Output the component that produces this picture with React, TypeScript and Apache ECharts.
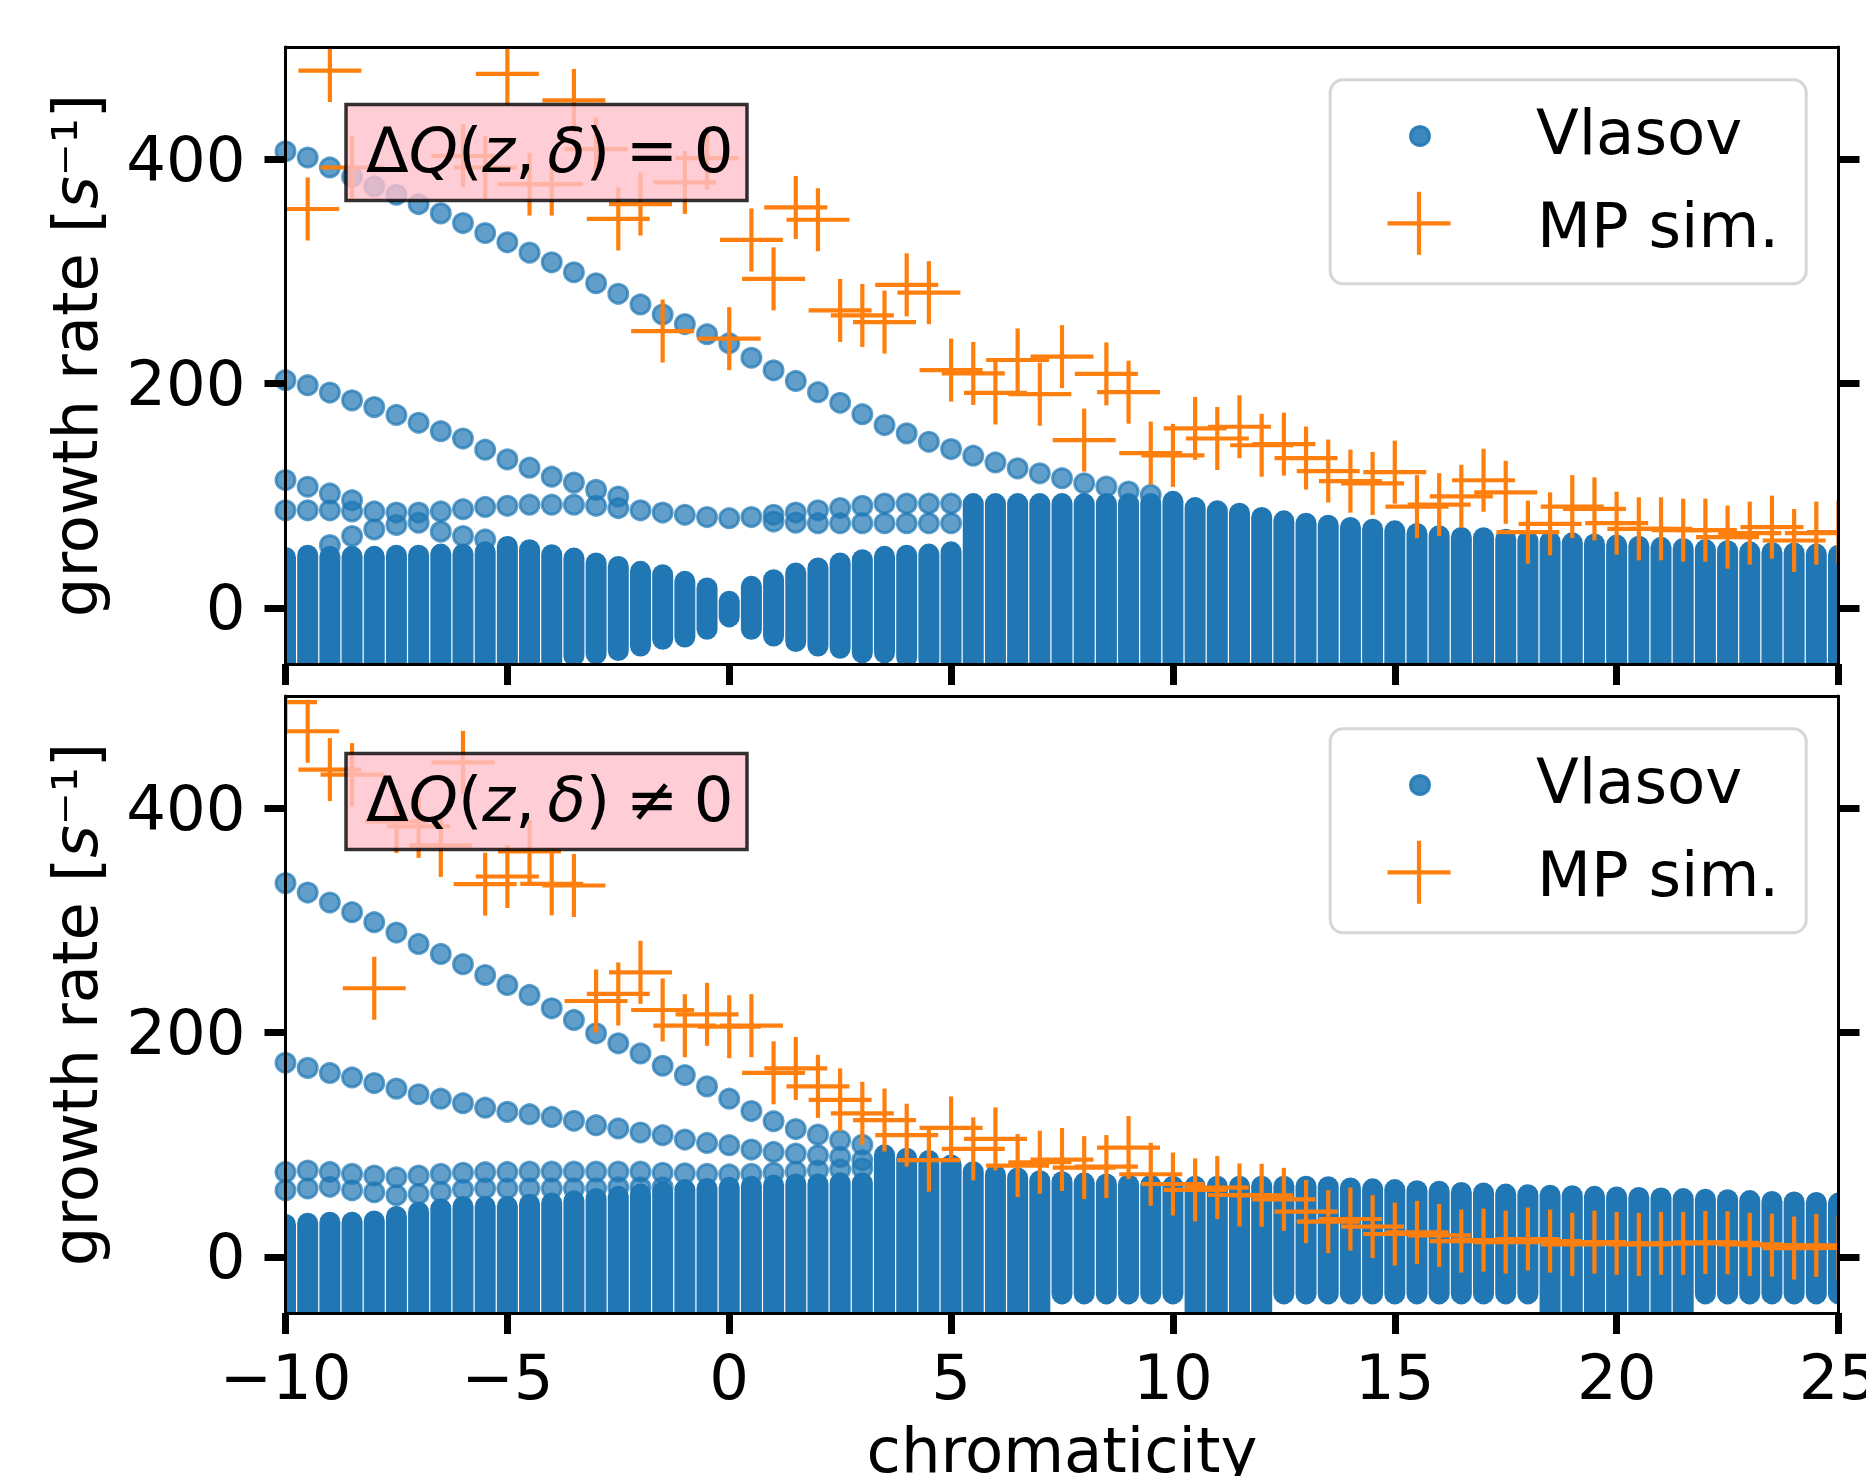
import React, { useEffect, useRef } from "react";
import * as echarts from "echarts";

// ---------------- data ----------------
// chromaticity values of the Vlasov solver scan
const CHROMA = [
  -10, -9.5, -9, -8.5, -8, -7.5, -7, -6.5, -6, -5.5, -5, -4.5, -4, -3.5, -3, -2.5, -2, -1.5, -1, -0.5,
  0, 0.5, 1, 1.5, 2, 2.5, 3, 3.5, 4, 4.5, 5, 5.5, 6, 6.5, 7, 7.5, 8, 8.5, 9, 9.5,
  10, 10.5, 11, 11.5, 12, 12.5, 13, 13.5, 14, 14.5, 15, 15.5, 16, 16.5, 17, 17.5, 18, 18.5, 19, 19.5,
  20, 20.5, 21, 21.5, 22, 22.5, 23, 23.5, 24, 24.5, 25,
];

// top panel (dQ = 0): dense cloud of Vlasov modes, lowest / highest mode in each column
const TOP_BAND_LO = [
  -60, -60, -60, -60, -60, -60, -60, -60, -60, -60, -60, -60,
  -48, -43, -41, -38, -34, -28, -26, -19, -8, -19, -25, -30, -34, -36, -40, -40, -44, -46, -48,
  -60, -60, -60, -60, -60, -60, -60, -60, -60, -60, -60, -60, -60, -60, -60, -60, -60, -60, -60, -60,
  -60, -60, -60, -60, -60, -60, -60, -60, -60, -60, -60, -60, -60, -60, -60, -60, -60, -60, -60, -60,
];
const TOP_BAND_HI = [
  45, 47, 46, 46, 46, 47, 47, 48, 48, 50, 54.8, 51.8, 47.4, 44.4, 40, 37, 32.6, 29.6, 23.7, 17.8,
  6, 19.2, 25.2, 31.1, 35.6, 40, 43, 46, 47, 48, 50, 93, 93, 93, 93, 93, 93, 93, 93, 93,
  95, 89.4, 86.5, 84.4, 80.6, 77.6, 75.5, 73.7, 71.7, 70.2, 68.7, 66.3, 64.3, 62.8, 62.5, 61.3, 60, 59, 58, 57,
  56, 55, 54, 53, 52, 51, 50, 49.5, 49, 48, 47,
];
// isolated Vlasov modes, top panel
const TOP_MODE_A = [
  [-10, 407], [-9.5, 401.5], [-9, 392.6], [-8.5, 384.3], [-8, 375.7], [-7.5, 368.3], [-7, 360], [-6.5, 351.7],
  [-6, 343.1], [-5.5, 334.2], [-5, 325.9], [-4.5, 316.7], [-4, 308.1], [-3.5, 299.2], [-3, 289.4], [-2.5, 280],
  [-2, 270.5], [-1.5, 261.6], [-1, 253], [-0.5, 244], [0, 236], [0.5, 223], [1, 211.8], [1.5, 202.3],
  [2, 192.3], [2.5, 182.8], [3, 172.7], [3.5, 163], [4, 155.6], [4.5, 148.1], [5, 141.6], [5.5, 135.7],
  [6, 129.7], [6.5, 124.4], [7, 120], [7.5, 115.6], [8, 111.1], [8.5, 108.1], [9, 103.7], [9.5, 100.7],
];
const TOP_MODE_B = [
  [-10, 203], [-9.5, 198.5], [-9, 192], [-8.5, 185], [-8, 179], [-7.5, 172], [-7, 165], [-6.5, 157.5],
  [-6, 151], [-5.5, 141], [-5, 132.4], [-4.5, 125], [-4, 117], [-3.5, 111.7], [-3, 105.2], [-2.5, 99.2],
];
const TOP_MODE_C = [
  [-10, 87], [-9.5, 87], [-9, 87], [-8.5, 86], [-8, 86], [-7.5, 85], [-7, 85], [-6.5, 86], [-6, 88],
  [-5.5, 90], [-5, 91], [-4.5, 92], [-4, 92], [-3.5, 92], [-3, 91], [-2.5, 89], [-2, 87], [-1.5, 85],
  [-1, 83], [-0.5, 81], [0, 80], [0.5, 81], [1, 83], [1.5, 85], [2, 87], [2.5, 89], [3, 91], [3.5, 93],
  [4, 93], [4.5, 93], [5, 93],
];
const TOP_MODE_C2 = [[1, 77], [1.5, 76], [2, 75.5], [2.5, 75.5], [3, 75.5], [3.5, 75.5], [4, 75.5], [4.5, 75.5], [5, 75.5]];
const TOP_MODE_D = [[-10, 114], [-9.5, 108], [-9, 102], [-8.5, 96]];
const TOP_MODE_E = [[-9, 56], [-8.5, 64], [-8, 70], [-7.5, 74], [-7, 76], [-6.5, 68], [-6, 64], [-5.5, 61]];

// top panel macro-particle simulation
const TOP_MP = [
  [-9.5, 355.6], [-9, 479], [-8.5, 392.6], [-6, 403], [-5.5, 392.6], [-5, 476], [-4.5, 377.8], [-4, 377.8],
  [-3.5, 452.4], [-3, 408.9], [-2.5, 346.7], [-2, 360], [-1.5, 246.8], [-1, 379.3], [-0.5, 400.9], [0, 240],
  [0.5, 328], [1, 293.3], [1.5, 357], [2, 346], [2.5, 265.2], [3, 260.7], [3.5, 254.8], [4, 288], [4.5, 281],
  [5, 212], [5.5, 209], [6, 191.6], [6.5, 221], [7, 190.5], [7.5, 224], [8, 149.6], [8.5, 208.6], [9, 192.3],
  [9.5, 138], [10, 136], [10.5, 160], [11, 151], [11.5, 161.5], [12, 145], [12.5, 146], [13, 133.6], [13.5, 122],
  [14, 113], [14.5, 111], [15, 121], [15.5, 90.3], [16, 92], [16.5, 99.5], [17, 113.8], [17.5, 103], [18, 67.5],
  [18.5, 74.9], [19, 90.3], [19.5, 88.3], [20, 75.5], [20.5, 70.5], [21, 70.5], [21.5, 69.3], [22, 69.3],
  [22.5, 63.1], [23, 66.7], [23.5, 72], [24, 60.1], [24.5, 66.7], [25, 67.6],
];

// bottom panel (dQ != 0)
const BOT_BAND_LO = [
  -60, -60, -60, -60, -60, -60, -60, -60, -60, -60, -60, -60, -60, -60, -60, -60, -60, -60, -60, -60,
  -60, -60, -60, -60, -60, -60, -60, -60, -60, -60, -60, -60, -60, -60, -60,
  -33, -33, -33, -33, -33, -33, -50, -55, -55, -50, -33, -33, -33, -33, -33, -33, -33, -33, -33, -33, -33, -33,
  -48, -52, -55, -55, -55, -52, -48, -33, -33, -33, -33, -33, -33, -33,
];
const BOT_BAND_HI = [
  29, 30, 31, 31, 32, 36, 40, 43, 45, 45, 45, 47, 48, 50, 52, 54, 56, 58, 60, 61,
  62, 63, 64, 65, 65, 66, 66, 91, 88, 86, 82, 76, 73, 70.4, 68, 67, 66, 65, 64.4, 64,
  63, 63, 63, 63, 63, 63, 63, 62.5, 61.4, 60.7, 60, 59, 58.5, 57.5, 57, 56, 55.5, 55, 54.6, 54,
  53.5, 53, 52.5, 52, 51.5, 51, 50.2, 49.5, 49, 48.5, 48,
];
const BOT_MODE_A = [
  [-10, 333.2], [-9.5, 324.8], [-9, 315.9], [-8.5, 307.3], [-8, 298.4], [-7.5, 289.1], [-7, 279], [-6.5, 270.1],
  [-6, 260.9], [-5.5, 251.3], [-5, 242.4], [-4.5, 233.5], [-4, 221.6], [-3.5, 211.2], [-3, 199.3], [-2.5, 190.4],
  [-2, 181.4], [-1.5, 170.4], [-1, 162.1], [-0.5, 152], [0, 141], [0.5, 130], [1, 121], [1.5, 114], [2, 109],
  [2.5, 104], [3, 100],
];
const BOT_MODE_B = [
  [-10, 173], [-9.5, 168.5], [-9, 164], [-8.5, 160], [-8, 155], [-7.5, 150], [-7, 145], [-6.5, 141], [-6, 137],
  [-5.5, 133], [-5, 129.3], [-4.5, 127.2], [-4, 124.8], [-3.5, 121.3], [-3, 117.4], [-2.5, 114.5], [-2, 110.9],
  [-1.5, 108.5], [-1, 104.6], [-0.5, 101.6], [0, 99.6], [0.5, 95.7], [1, 93.6], [1.5, 92.1], [2, 90.6],
  [2.5, 89.1], [3, 86.2],
];
const BOT_MODE_C = [
  [-10, 75.7], [-9.5, 77], [-9, 75.7], [-8.5, 74], [-8, 72.5], [-7.5, 71], [-7, 72.5], [-6.5, 74], [-6, 75],
  [-5.5, 75.5], [-5, 75.7], [-4.5, 76], [-4, 76], [-3.5, 76], [-3, 76], [-2.5, 76], [-2, 76], [-1.5, 75],
  [-1, 74.5], [-0.5, 74], [0, 73.5], [0.5, 74], [1, 75], [1.5, 76], [2, 77], [2.5, 78], [3, 79],
];
const BOT_MODE_C2 = [
  [-10, 59.4], [-9.5, 61], [-9, 62.5], [-8.5, 59.4], [-8, 57.7], [-7.5, 55], [-7, 56], [-6.5, 58], [-6, 60],
  [-5.5, 61], [-5, 61], [-4.5, 61], [-4, 61], [-3.5, 61], [-3, 61], [-2.5, 62], [-2, 62], [-1.5, 62],
];

const BOT_MP = [
  [-10, 494.5], [-9.5, 468.6], [-9, 434.4], [-8.5, 429.9], [-8, 239.5], [-7.5, 388.2], [-7, 383.8], [-6.5, 366.8],
  [-6, 440.9], [-5.5, 332.3], [-5, 339.1], [-4.5, 361.4], [-4, 332.6], [-3.5, 331.1], [-3, 228.1], [-2.5, 234.4],
  [-2, 253.7], [-1.5, 220.1], [-1, 206.1], [-0.5, 216.2], [0, 205.2], [0.5, 206.1], [1, 164.1], [1.5, 168],
  [2, 152], [2.5, 140], [3, 128], [3.5, 122], [4, 108.5], [4.5, 86.2], [5, 115], [5.5, 96.3], [6, 105.2],
  [6.5, 81.4], [7, 84.4], [7.5, 86.8], [8, 79.6], [8.5, 80.5], [9, 97.5], [9.5, 73.7], [10, 65], [10.5, 59.7],
  [11, 61.8], [11.5, 55.2], [12, 54.9], [12.5, 51.3], [13, 40.4], [13.5, 31.4], [14, 33.8], [14.5, 27],
  [15, 20.4], [15.5, 21.9], [16, 19.2], [16.5, 14.1], [17, 15], [17.5, 13.2], [18, 15.9], [18.5, 14.1],
  [19, 11.2], [19.5, 13.2], [20, 12.1], [20.5, 11.2], [21, 12.1], [21.5, 12.1], [22, 12.9], [22.5, 12.6],
  [23, 11.2], [23.5, 10.5], [24, 7.9], [24.5, 10.3], [25, 8],
];

const Y_TICKS = [0, 200, 400];
const X_MIN = -10;
const X_MAX = 25;
const X_STEP = 5;
const Y_MIN = -50;
const Y_MAX = 500;
const LEGEND_NAMES = ["Vlasov", "MP sim."];
const PANEL_TAGS = [
  "{n|Δ}{i|Q}{n|(}{i|z}{n|,\u2009}{i|δ}{n|)\u2005=\u20050}",
  "{n|Δ}{i|Q}{n|(}{i|z}{n|,\u2009}{i|δ}{n|)\u2005≠\u20050}",
];

// ---------------- styling / layout ----------------
const FONT = "DejaVu Sans";
const FS = 62.5;
const BLUE_A = "rgba(31,119,180,0.88)";
const BAND_COLOR = "#2077b4";
const ORANGE = "#ff7f0e";
const DOT_SIZE = 19;
const DOT_BORDER = 3;
const BAND_R = 10.5;
const CROSS_HALF = 31.5;
const CROSS_W = 4.2;

const GL = 285.5;
const GW = 1553;
const GH = 617;
const GT = [47, 696];

const fmt = (v: number) => String(v).replace("-", "\u2212");

function bandSeries(panel: number, lo: number[], hi: number[]) {
  return {
    type: "custom",
    xAxisIndex: panel * 2,
    yAxisIndex: panel * 2,
    clip: true,
    silent: true,
    z: 2,
    data: CHROMA.map((x, i) => [x, lo[i], hi[i]]),
    encode: { x: 0, y: [1, 2] },
    renderItem: (_p: any, api: any) => {
      const x = api.value(0);
      const top = api.coord([x, api.value(2)]);
      const bot = api.coord([x, api.value(1)]);
      return {
        type: "rect",
        shape: {
          x: top[0] - BAND_R,
          y: top[1] - BAND_R,
          width: 2 * BAND_R,
          height: bot[1] - top[1] + 2 * BAND_R,
          r: BAND_R,
        },
        style: { fill: BAND_COLOR },
      };
    },
  };
}

function dotSeries(panel: number, data: number[][]) {
  return {
    type: "scatter",
    xAxisIndex: panel * 2,
    yAxisIndex: panel * 2,
    clip: true,
    silent: true,
    z: 3,
    symbol: "circle",
    symbolSize: DOT_SIZE,
    itemStyle: { color: BLUE_A, borderColor: BLUE_A, borderWidth: DOT_BORDER },
    data,
  };
}

function crossSeries(panel: number, data: number[][]) {
  return {
    type: "custom",
    xAxisIndex: panel * 2,
    yAxisIndex: panel * 2,
    clip: true,
    silent: true,
    z: 4,
    data,
    encode: { x: 0, y: 1 },
    renderItem: (_p: any, api: any) => {
      const p = api.coord([api.value(0), api.value(1)]);
      return {
        type: "group",
        children: [
          { type: "line", shape: { x1: p[0] - CROSS_HALF, y1: p[1], x2: p[0] + CROSS_HALF, y2: p[1] }, style: { stroke: ORANGE, lineWidth: CROSS_W } },
          { type: "line", shape: { x1: p[0], y1: p[1] - CROSS_HALF, x2: p[0], y2: p[1] + CROSS_HALF }, style: { stroke: ORANGE, lineWidth: CROSS_W } },
        ],
      };
    },
  };
}

const axisLine = { show: true, onZero: false, lineStyle: { color: "#000", width: 3 } };
const tickStyle = { color: "#000", width: 7 };

function xAxes(panel: number) {
  return [
    {
      type: "value", gridIndex: panel, position: "bottom", min: X_MIN, max: X_MAX, interval: X_STEP, z: 20,
      axisLine,
      axisTick: { show: true, inside: false, length: 21, lineStyle: tickStyle },
      axisLabel: { show: panel === 1, margin: 33, fontSize: FS, fontFamily: FONT, color: "#000", formatter: fmt },
      splitLine: { show: false },
    },
    {
      type: "value", gridIndex: panel, position: "top", min: X_MIN, max: X_MAX, interval: X_STEP, z: 20,
      axisLine,
      axisTick: { show: false },
      axisLabel: { show: false },
      splitLine: { show: false },
    },
  ];
}

function yAxes(panel: number) {
  return [
    {
      type: "value", gridIndex: panel, position: "left", min: Y_MIN, max: Y_MAX, z: 20,
      axisLine,
      axisTick: { show: true, inside: false, length: 21, lineStyle: tickStyle, customValues: Y_TICKS },
      axisLabel: { show: true, customValues: Y_TICKS, margin: 40, fontSize: FS, fontFamily: FONT, color: "#000", formatter: fmt },
      splitLine: { show: false },
    },
    {
      type: "value", gridIndex: panel, position: "right", min: Y_MIN, max: Y_MAX, z: 20,
      axisLine,
      axisTick: { show: true, inside: false, length: 21, lineStyle: tickStyle, customValues: Y_TICKS },
      axisLabel: { show: false, customValues: Y_TICKS },
      splitLine: { show: false },
    },
  ];
}

function panelGraphics(panel: number) {
  const dy = GT[panel] - GT[0];
  const txt = (extra: any) => ({ fontSize: FS, fontFamily: FONT, fill: "#000", ...extra });
  return [
    // annotation box
    {
      type: "rect", z: 30, silent: true,
      shape: { x: 346, y: 104.5 + dy, width: 401, height: 96 },
      style: { fill: "rgba(255,192,203,0.8)", stroke: "rgba(0,0,0,0.8)", lineWidth: 3.5 },
    },
    {
      type: "text", z: 31, silent: true, x: 366, y: 150 + dy,
      style: txt({
        text: PANEL_TAGS[panel], textAlign: "left", textVerticalAlign: "middle",
        rich: {
          n: { fontSize: FS, fontFamily: FONT, fill: "#000" },
          i: { fontSize: FS, fontFamily: FONT, fontStyle: "italic", fill: "#000" },
        },
      }),
    },
    // legend frame
    {
      type: "rect", z: 30, silent: true,
      shape: { x: 1330.2, y: 79.8 + dy, width: 476, height: 204, r: 13 },
      style: { fill: "rgba(255,255,255,0.8)", stroke: "#d6d6d6", lineWidth: 3 },
    },
    {
      type: "circle", z: 31, silent: true,
      shape: { cx: 1420, cy: 136 + dy, r: DOT_SIZE / 2 },
      style: { fill: BLUE_A, stroke: BLUE_A, lineWidth: DOT_BORDER },
    },
    {
      type: "line", z: 31, silent: true,
      shape: { x1: 1419 - CROSS_HALF, y1: 223.3 + dy, x2: 1419 + CROSS_HALF, y2: 223.3 + dy },
      style: { stroke: ORANGE, lineWidth: CROSS_W },
    },
    {
      type: "line", z: 31, silent: true,
      shape: { x1: 1419, y1: 223.3 + dy - CROSS_HALF, x2: 1419, y2: 223.3 + dy + CROSS_HALF },
      style: { stroke: ORANGE, lineWidth: CROSS_W },
    },
    {
      type: "text", z: 31, silent: true, x: 1536, y: 132 + dy,
      style: txt({ text: LEGEND_NAMES[0], textAlign: "left", textVerticalAlign: "middle" }),
    },
    {
      type: "text", z: 31, silent: true, x: 1537, y: 225 + dy,
      style: txt({ text: LEGEND_NAMES[1], textAlign: "left", textVerticalAlign: "middle" }),
    },
    // y axis title
    {
      type: "text", z: 31, silent: true, x: 75.5, y: GT[panel] + GH / 2, rotation: Math.PI / 2,
      style: txt({
        text: "{n|growth rate [}{i|s}{n|⁻¹]}", textAlign: "center", textVerticalAlign: "middle",
        rich: {
          n: { fontSize: FS, fontFamily: FONT, fill: "#000" },
          i: { fontSize: FS, fontFamily: FONT, fontStyle: "italic", fill: "#000" },
        },
      }),
    },
  ];
}

function buildOption() {
  return {
    animation: false,
    backgroundColor: "#fff",
    textStyle: { fontFamily: FONT },
    grid: [0, 1].map((i) => ({
      left: GL, top: GT[i], width: GW, height: GH, show: false, containLabel: false, outerBoundsMode: "none",
    })),
    xAxis: [...xAxes(0), ...xAxes(1)],
    yAxis: [...yAxes(0), ...yAxes(1)],
    series: [
      bandSeries(0, TOP_BAND_LO, TOP_BAND_HI),
      dotSeries(0, [...TOP_MODE_A, ...TOP_MODE_B, ...TOP_MODE_C, ...TOP_MODE_C2, ...TOP_MODE_D, ...TOP_MODE_E]),
      crossSeries(0, TOP_MP),
      bandSeries(1, BOT_BAND_LO, BOT_BAND_HI),
      dotSeries(1, [...BOT_MODE_A, ...BOT_MODE_B, ...BOT_MODE_C, ...BOT_MODE_C2]),
      crossSeries(1, BOT_MP),
    ],
    graphic: {
      elements: [
        ...panelGraphics(0),
        ...panelGraphics(1),
        {
          type: "text", z: 31, silent: true, x: GL + GW / 2, y: 1450.5,
          style: { text: "chromaticity", fontSize: FS, fontFamily: FONT, fill: "#000", textAlign: "center", textVerticalAlign: "middle" },
        },
      ],
    },
  };
}

export default function App() {
  const ref = useRef<HTMLDivElement>(null);
  useEffect(() => {
    if (!ref.current) return;
    const chart = echarts.init(ref.current, null, { renderer: "svg", width: 1866, height: 1476 });
    chart.setOption(buildOption() as any);
    return () => chart.dispose();
  }, []);
  return (
    <div
      ref={ref}
      style={{ position: "absolute", left: 0, top: 0, width: 1866, height: 1476, background: "#fff" }}
    />
  );
}
